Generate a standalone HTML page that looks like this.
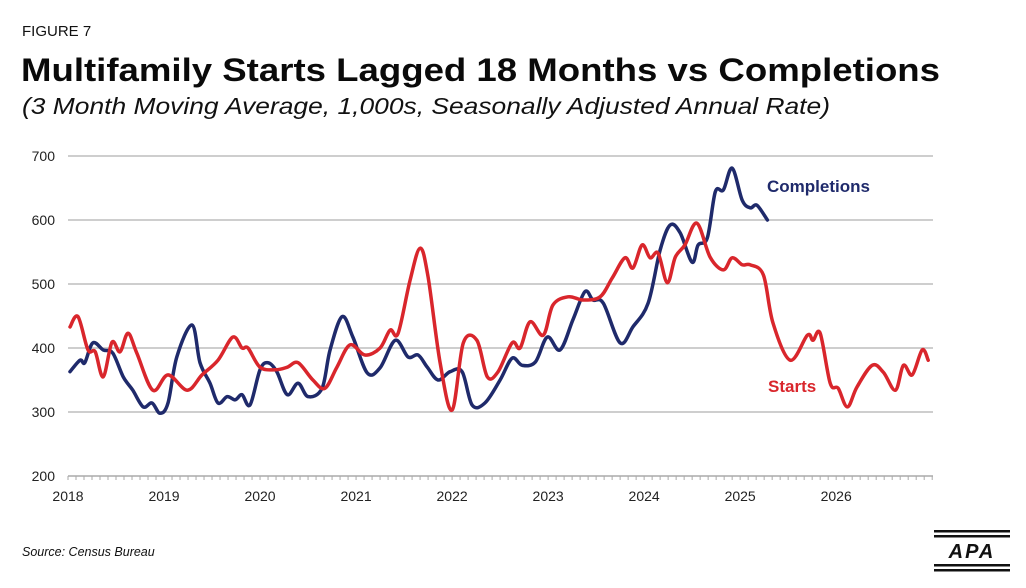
<!DOCTYPE html>
<html><head><meta charset="utf-8"><style>
html,body{margin:0;padding:0;background:#fff;}
svg{display:block;font-family:"Liberation Sans",Arial,sans-serif;}
</style></head><body>
<svg id="chart" width="1026" height="588" viewBox="0 0 1026 588">
<rect width="1026" height="588" fill="#fff"/>
<text x="22" y="36" font-size="15" fill="#111">FIGURE 7</text>
<text x="21" y="81" font-size="32" font-weight="bold" fill="#0a0a0a" textLength="919" lengthAdjust="spacingAndGlyphs">Multifamily Starts Lagged 18 Months vs Completions</text>
<text x="22" y="114" font-size="23" font-style="italic" fill="#111" textLength="808" lengthAdjust="spacingAndGlyphs">(3 Month Moving Average, 1,000s, Seasonally Adjusted Annual Rate)</text>
<g id="grid"></g><g id="axes"></g><g id="series"></g>
<text x="767" y="192" font-size="17" font-weight="bold" fill="#1f2a6b">Completions</text>
<text x="768" y="392" font-size="17" font-weight="bold" fill="#d9262c">Starts</text>
<text x="22" y="556" font-size="12.5" font-style="italic" fill="#111">Source: Census Bureau</text>
<g>
<rect x="934" y="530" width="76" height="2.5" fill="#111"/><rect x="934" y="535" width="76" height="2.5" fill="#111"/>
<text x="972" y="558" font-size="20" font-weight="bold" font-style="italic" text-anchor="middle" fill="#111" letter-spacing="2">APA</text>
<rect x="934" y="564" width="76" height="2.5" fill="#111"/><rect x="934" y="569" width="76" height="2.5" fill="#111"/>
</g>
</svg>
<script>
// months since Jan 2018 and values (1,000s SAAR)
const completionsMonths=[0.25,1.5,2.1,3.1,4.4,5.6,6.9,8.1,9.4,10.5,11.5,12.5,13.6,15.5,16.5,17.75,18.75,19.9,20.9,21.75,22.75,24,25,26.1,27.4,28.75,30,31.75,32.75,34.25,35.6,37.4,39,40.9,42.5,43.75,44.9,46.25,47.75,49.25,50.5,52.1,54,55.5,56.75,58.4,59.9,61.5,63.1,64.6,65.6,66.9,69,70.6,72.5,74,75.25,76.5,78,78.75,79.9,80.9,81.9,83,84.25,85.25,86.1,87.4];
const completionsValues=[363,381,377,408,397,392,355,334,308,314,298,314,386,436,377,345,314,324,319,327,311,366,377,363,327,345,324,337,397,449,417,361,369,412,386,389,370,350,363,363,311,314,350,384,373,378,417,397,444,488,475,470,408,433,470,553,592,580,534,561,572,644,647,681,631,619,623,600];
const startsMonths=[0.25,1.25,2.5,3.4,4.4,5.5,6.5,7.5,8.6,10.6,12.5,14.9,16.75,18.75,20.6,21.75,22.5,24,25.9,27.4,28.75,30.6,32.1,33.6,35.25,37.1,39,40.25,41.25,42.75,44,45,46.5,48,49.4,51.1,52.4,53.75,55.5,56.5,57.75,59.4,60.6,62.5,64.4,66.5,68,69.6,70.6,71.75,72.75,73.75,74.9,75.9,77.1,78.6,80.25,81.9,83,84.25,85.25,86.9,88.1,90.25,92.4,93.1,94,95.25,96.25,97.4,98.6,100.5,101.9,103.4,104.4,105.5,106.75,107.5];
const startsValues=[433,449,397,394,355,409,394,423,392,334,358,334,358,381,417,400,400,370,366,370,377,350,337,370,405,389,400,428,423,506,556,511,377,303,408,412,355,363,408,400,441,420,467,480,475,480,509,541,525,561,541,548,502,542,561,595,542,522,541,530,530,514,439,381,420,412,423,345,337,308,339,373,362,334,373,358,397,381];
const yTicks=[200,300,400,500,600,700];
const xTickLabels=["2018","2019","2020","2021","2022","2023","2024","2025","2026"];

const NS="http://www.w3.org/2000/svg";
const X0=68,X1=933,MMAX=108.1;
function xs(m){return X0+m*(X1-X0)/MMAX;}
function ys(v){return 476-(v-200)*0.64;}
function mk(tag,attrs,parent){const e=document.createElementNS(NS,tag);for(const k in attrs)e.setAttribute(k,attrs[k]);parent.appendChild(e);return e;}
const grid=document.getElementById('grid'),axes=document.getElementById('axes'),series=document.getElementById('series');
yTicks.forEach(v=>{
  if(v>200){const l=mk('line',{x1:X0,x2:X1,y1:ys(v),y2:ys(v),stroke:'#bdbdbd','stroke-width':1.5},grid);
  
  }
  const t=mk('text',{x:55,y:ys(v)+5,'font-size':14,'text-anchor':'end',fill:'#222'},axes);t.textContent=v;
  
  
});
const base=mk('line',{x1:X0,x2:X1,y1:ys(200),y2:ys(200),stroke:'#aaa','stroke-width':1.5},axes);


for(let m=0;m<=108;m++){mk('line',{x1:xs(m),x2:xs(m),y1:ys(200),y2:ys(200)+4,stroke:'#aaa','stroke-width':1},axes);}
xTickLabels.forEach((lab,i)=>{const t=mk('text',{x:xs(i*12),y:501,'font-size':14,'text-anchor':'middle',fill:'#222'},axes);t.textContent=lab;
  
  });
function smooth(ms,vs){const p=ms.map((m,i)=>[xs(m),ys(vs[i])]);let d='M'+p[0][0].toFixed(1)+','+p[0][1].toFixed(1);
  for(let i=0;i<p.length-1;i++){const a=p[i-1]||p[i],b=p[i],c=p[i+1],e=p[i+2]||c;
   const c1=[b[0]+(c[0]-a[0])/6,b[1]+(c[1]-a[1])/6],c2=[c[0]-(e[0]-b[0])/6,c[1]-(e[1]-b[1])/6];
   d+=' C'+c1.map(n=>n.toFixed(1))+' '+c2.map(n=>n.toFixed(1))+' '+c[0].toFixed(1)+','+c[1].toFixed(1);}
  return d;}
const sl=mk('path',{d:smooth(startsMonths,startsValues),fill:'none',stroke:'#d9262c','stroke-width':3.5,'stroke-linejoin':'round','stroke-linecap':'round'},series);


const cl=mk('path',{d:smooth(completionsMonths,completionsValues),fill:'none',stroke:'#1f2a6b','stroke-width':3.5,'stroke-linejoin':'round','stroke-linecap':'round'},series);


series.insertBefore(cl,sl);
</script>
</body></html>
